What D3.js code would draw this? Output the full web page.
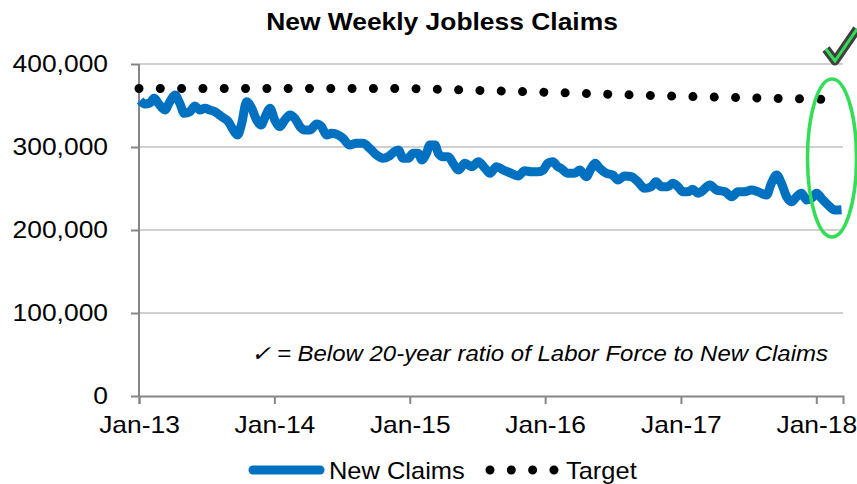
<!DOCTYPE html>
<html>
<head>
<meta charset="utf-8">
<script src="https://cdn.jsdelivr.net/npm/d3@7"></script>
<style>
  html, body { margin:0; padding:0; background:#fff; }
  svg { display:block; font-family:"Liberation Sans", Arial, sans-serif; }
</style>
</head>
<body>
<svg id="chart" width="857" height="484"></svg>
<script>
// ── data ─────────────────────────────────────────────────
const claims = [
  ["2013-01-04",356000],["2013-01-17",351800],["2013-01-30",353000],["2013-02-11",358700],
  ["2013-02-22",352600],["2013-03-12",344600],["2013-03-25",354600],["2013-04-08",362600],
  ["2013-04-21",352600],["2013-05-03",340600],["2013-05-18",342500],["2013-06-01",349400],
  ["2013-06-14",344600],["2013-06-28",346600],["2013-07-11",344600],["2013-07-25",342500],
  ["2013-08-12",336500],["2013-08-30",330500],["2013-09-12",320500],["2013-09-24",314500],
  ["2013-10-05",328500],["2013-10-18",354600],["2013-11-01",346600],["2013-11-14",332500],
  ["2013-11-26",326500],["2013-12-09",338500],["2013-12-20",346600],["2014-01-02",332500],
  ["2014-01-16",324500],["2014-01-29",332500],["2014-02-12",338500],["2014-02-25",334600],
  ["2014-03-11",324500],["2014-03-24",320500],["2014-04-07",320500],["2014-04-25",327700],
  ["2014-05-08",324500],["2014-05-22",314500],["2014-06-04",316500],["2014-06-22",314500],
  ["2014-07-05",310500],["2014-07-23",302400],["2014-08-10",304500],["2014-08-28",304500],
  ["2014-09-15",298400],["2014-10-03",290400],["2014-10-21",286400],["2014-11-04",288300],
  ["2014-11-17",293100],["2014-12-01",296400],["2014-12-14",286400],["2014-12-28",286400],
  ["2015-01-10",292400],["2015-01-24",292400],["2015-02-02",284300],["2015-02-15",292400],
  ["2015-02-24",302400],["2015-03-10",302400],["2015-03-19",292400],["2015-04-01",288300],
  ["2015-04-15",288300],["2015-04-28",280300],["2015-05-12",272300],["2015-05-30",280300],
  ["2015-06-17",276300],["2015-07-05",282300],["2015-07-23",274300],["2015-08-05",268300],
  ["2015-08-23",276300],["2015-09-10",272300],["2015-09-28",269000],["2015-10-20",265100],
  ["2015-11-07",271400],["2015-11-25",270200],["2015-12-13",270200],["2015-12-27",272300],
  ["2016-01-08",280300],["2016-01-22",282300],["2016-02-04",276300],["2016-02-13",274300],
  ["2016-03-02",268300],["2016-03-20",268300],["2016-04-03",272300],["2016-04-21",264200],
  ["2016-05-04",274300],["2016-05-15",280300],["2016-05-27",274300],["2016-06-14",268300],
  ["2016-07-01",266300],["2016-07-15",260200],["2016-08-02",265100],["2016-08-20",264200],
  ["2016-09-07",258200],["2016-09-25",250200],["2016-10-13",252200],["2016-10-26",258200],
  ["2016-11-09",252200],["2016-11-27",252200],["2016-12-10",256300],["2016-12-24",252200],
  ["2017-01-06",246100],["2017-01-20",246100],["2017-02-02",249000],["2017-02-16",244200],
  ["2017-02-25",246100],["2017-03-20",254200],["2017-04-07",248200],["2017-04-30",246100],
  ["2017-05-18",240100],["2017-06-04",246100],["2017-06-22",246100],["2017-07-10",248200],
  ["2017-07-28",246100],["2017-08-20",242200],["2017-09-02",256300],["2017-09-16",266300],
  ["2017-09-29",256300],["2017-10-13",240100],["2017-10-26",234100],["2017-11-09",240100],
  ["2017-11-22",244200],["2017-12-06",236100],["2017-12-19",238200],["2018-01-02",244200],
  ["2018-01-15",238200],["2018-02-02",230100],["2018-02-20",224100],["2018-03-10",224500]
];
const target = [
  ["2013-01-01",370500],["2015-01-01",370500],["2016-01-01",366000],
  ["2017-01-01",361000],["2018-01-15",357500]
];
const yTicks = [0, 100000, 200000, 300000, 400000];
const xTickYears = [2013, 2014, 2015, 2016, 2017, 2018];
const xStart = "2013-01-01", xEnd = "2018-03-14";

const title = "New Weekly Jobless Claims";
const note = "\u2713 = Below 20-year ratio of Labor Force to New Claims";
const seriesNames = ["New Claims", "Target"];

// ── setup ────────────────────────────────────────────────
const parse = d3.timeParse("%Y-%m-%d");
const svg = d3.select("#chart");
const L = 139, R = 843, T = 64, B = 396;

const x = d3.scaleTime().domain([parse(xStart), parse(xEnd)]).range([L, R]);
const y = d3.scaleLinear().domain([0, 400000]).range([B, T]);

// the reference text is a bit wider than plain Arial
function widen(sel, k) {
  sel.each(function() {
    const w = this.getComputedTextLength();
    this.setAttribute("textLength", w * k);
    this.setAttribute("lengthAdjust", "spacingAndGlyphs");
  });
}

// gridlines
svg.append("g").selectAll("line")
  .data(yTicks.filter(d => d > 0))
  .join("line")
  .attr("x1", L).attr("x2", R)
  .attr("y1", d => y(d)).attr("y2", d => y(d))
  .attr("stroke", "#c0c0c0").attr("stroke-width", 1.5);

// y axis
const yAxis = svg.append("g").attr("transform", `translate(${L},0)`)
  .call(d3.axisLeft(y).tickValues(yTicks).tickFormat(d3.format(",")).tickSize(8).tickPadding(23));
yAxis.select(".domain").attr("d", `M0,${T}V${B}`);

// x axis
const xAxis = svg.append("g").attr("transform", `translate(0,${B})`)
  .call(d3.axisBottom(x)
    .tickValues(xTickYears.map(yr => new Date(yr, 0, 1)))
    .tickFormat(d3.timeFormat("%b-%y")).tickSize(8).tickPadding(12));

[yAxis, xAxis].forEach(ax => {
  ax.select(".domain").attr("stroke", "#868686").attr("stroke-width", 2);
  ax.selectAll(".tick line").attr("stroke", "#868686").attr("stroke-width", 2);
  ax.selectAll(".tick text").attr("fill", "#000").attr("font-size", 24)
    .attr("font-family", "Liberation Sans, Arial, sans-serif");
});
yAxis.selectAll(".tick text").call(widen, 1.1);
xAxis.selectAll(".tick text").call(widen, 1.1);

// target (dotted)
const line = d3.line().x(d => x(parse(d[0]))).y(d => y(d[1]));
svg.append("path")
  .datum(target)
  .attr("d", line)
  .attr("fill", "none")
  .attr("stroke", "#000")
  .attr("stroke-width", 9)
  .attr("stroke-linecap", "round")
  .attr("stroke-dasharray", "0.01,21.3");

// new claims
svg.append("path")
  .datum(claims)
  .attr("d", line.curve(d3.curveMonotoneX))
  .attr("fill", "none")
  .attr("stroke", "#0070c0")
  .attr("stroke-width", 9)
  .attr("stroke-linejoin", "round");

// title
svg.append("text")
  .attr("x", 442).attr("y", 30)
  .attr("text-anchor", "middle")
  .attr("font-size", 24).attr("font-weight", "bold")
  .text(title)
  .call(widen, 1.1);

// note
svg.append("text")
  .attr("x", 828).attr("y", 361)
  .attr("text-anchor", "end")
  .attr("font-size", 22).attr("font-style", "italic")
  .text(note)
  .call(widen, 1.09);

// green highlight + tick mark
svg.append("ellipse")
  .attr("cx", 832).attr("cy", 158).attr("rx", 24.5).attr("ry", 79)
  .attr("fill", "none").attr("stroke", "#33dd55").attr("stroke-width", 3.5);
const check = "M826,49 L835,61 L857,29";
svg.append("path").attr("d", check).attr("fill", "none")
  .attr("stroke", "#404040").attr("stroke-width", 9).attr("stroke-linejoin", "round");
svg.append("path").attr("d", check).attr("fill", "none")
  .attr("stroke", "#33dd55").attr("stroke-width", 3);

// legend
const leg = svg.append("g").attr("transform", "translate(0,470)");
leg.append("line").attr("x1", 253).attr("x2", 320)
  .attr("stroke", "#0070c0").attr("stroke-width", 9).attr("stroke-linecap", "round");
leg.append("text").attr("x", 329).attr("y", 9).attr("font-size", 24)
  .text(seriesNames[0]).call(widen, 1.06);
leg.append("line").attr("x1", 490).attr("x2", 555)
  .attr("stroke", "#000").attr("stroke-width", 9).attr("stroke-linecap", "round")
  .attr("stroke-dasharray", "0.01,21.3");
leg.append("text").attr("x", 566).attr("y", 9).attr("font-size", 24)
  .text(seriesNames[1]).call(widen, 1.06);
</script>
</body>
</html>
